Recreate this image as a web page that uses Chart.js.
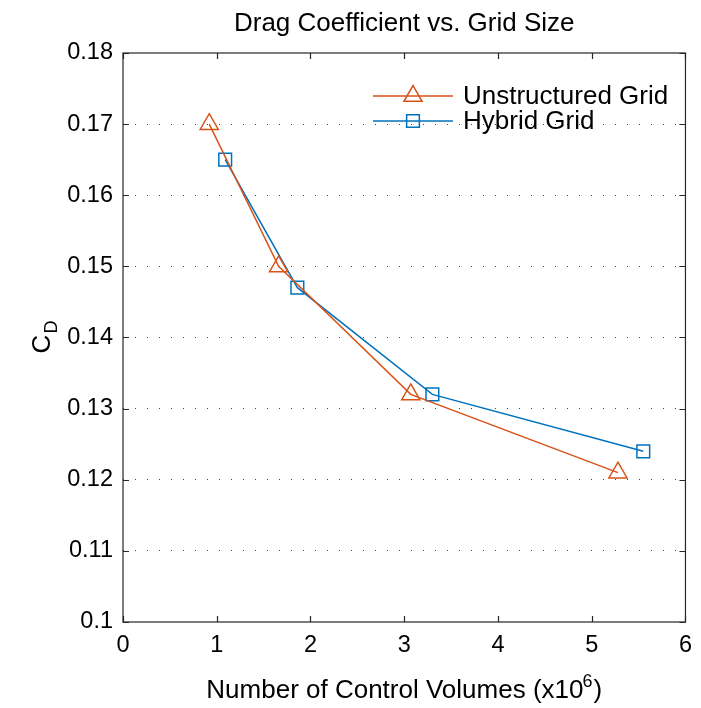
<!DOCTYPE html>
<html>
<head>
<meta charset="utf-8">
<script src="https://cdn.jsdelivr.net/npm/chart.js@4.4.0/dist/chart.umd.min.js"></script>
<style>
html,body{margin:0;padding:0;background:#fff;}
#wrap{width:701px;height:708px;}
</style>
</head>
<body>
<div id="wrap"><canvas id="c" width="701" height="708"></canvas></div>
<script>
const chartTitle = "Drag Coefficient vs. Grid Size";
const xAxisTitle = "Number of Control Volumes (x10";
const xAxisSup = "6";
const yAxisTitle = "C";
const yAxisSub = "D";
const seriesNames = ["Unstructured Grid", "Hybrid Grid"];
const unstructuredX = [0.92, 1.66, 3.07, 5.28];
const unstructuredY = [0.170, 0.150, 0.132, 0.121];
const hybridX = [1.09, 1.86, 3.30, 5.55];
const hybridY = [0.165, 0.147, 0.132, 0.124];
const xTicks = [0, 1, 2, 3, 4, 5, 6];
const yTicks = [0.1, 0.11, 0.12, 0.13, 0.14, 0.15, 0.16, 0.17, 0.18];
const yTickLabels = ["0.1", "0.11", "0.12", "0.13", "0.14", "0.15", "0.16", "0.17", "0.18"];

const ORANGE = "#D95319";
const BLUE = "#0072BD";
const FONT = "'Liberation Sans', Arial, sans-serif";
const TXT = 26;
const TICK = 23.5;
const SMALL = 18;

const toPts = (xs, ys) => xs.map((x, i) => ({x: x, y: ys[i]}));

const decor = {
  id: 'decor',
  afterDraw(chart) {
    const ctx = chart.ctx;
    const a = chart.chartArea;
    const xs = chart.scales.x, ys = chart.scales.y;
    ctx.save();
    // frame
    ctx.strokeStyle = '#262626';
    ctx.lineWidth = 1.2;
    ctx.strokeRect(a.left, a.top, a.right - a.left, a.bottom - a.top);
    // inner ticks
    const tl = 6;
    ctx.beginPath();
    xTicks.forEach(v => {
      const px = Math.round(xs.getPixelForValue(v)) + 0.5;
      ctx.moveTo(px, a.bottom); ctx.lineTo(px, a.bottom - tl);
      ctx.moveTo(px, a.top); ctx.lineTo(px, a.top + tl);
    });
    yTicks.forEach(v => {
      const py = Math.round(ys.getPixelForValue(v)) + 0.5;
      ctx.moveTo(a.left, py); ctx.lineTo(a.left + tl, py);
      ctx.moveTo(a.right, py); ctx.lineTo(a.right - tl, py);
    });
    ctx.stroke();
    // title
    ctx.fillStyle = '#000';
    ctx.font = TXT + "px " + FONT;
    ctx.textAlign = 'center';
    ctx.textBaseline = 'alphabetic';
    ctx.fillText(chartTitle, (a.left + a.right) / 2, 31);
    // x axis title with superscript
    ctx.font = TXT + "px " + FONT;
    const w1 = ctx.measureText(xAxisTitle).width;
    ctx.font = SMALL + "px " + FONT;
    const w2 = ctx.measureText(xAxisSup).width;
    ctx.font = TXT + "px " + FONT;
    const w3 = ctx.measureText(")").width;
    const total = w1 + w2 + w3;
    let sx = (a.left + a.right) / 2 - total / 2;
    const by = 698;
    ctx.textAlign = 'left';
    ctx.fillText(xAxisTitle, sx, by);
    ctx.font = SMALL + "px " + FONT;
    ctx.fillText(xAxisSup, sx + w1 - 1, by - 11);
    ctx.font = TXT + "px " + FONT;
    ctx.fillText(")", sx + w1 + w2, by);
    // y axis title with subscript, rotated
    ctx.save();
    ctx.translate(50, (a.top + a.bottom) / 2);
    ctx.rotate(-Math.PI / 2);
    ctx.font = TXT + "px " + FONT;
    const cw = ctx.measureText(yAxisTitle).width;
    ctx.font = SMALL + "px " + FONT;
    const dw = ctx.measureText(yAxisSub).width;
    const yx = -(cw + dw) / 2;
    ctx.font = TXT + "px " + FONT;
    ctx.fillText(yAxisTitle, yx, 0);
    ctx.font = SMALL + "px " + FONT;
    ctx.fillText(yAxisSub, yx + cw + 1, 7);
    ctx.restore();
    // legend
    const lx0 = 373, lx1 = 453, tx = 463;
    const rows = [
      {y: 96, color: ORANGE, style: 'triangle', r: 10.5, name: seriesNames[0]},
      {y: 121, color: BLUE, style: 'rect', r: 9, name: seriesNames[1]}
    ];
    rows.forEach(row => {
      ctx.strokeStyle = row.color;
      ctx.fillStyle = 'rgba(0,0,0,0)';
      ctx.lineWidth = 1.5;
      ctx.beginPath();
      ctx.moveTo(lx0, row.y); ctx.lineTo(lx1, row.y);
      ctx.stroke();
      Chart.helpers.drawPoint(ctx, {pointStyle: row.style, radius: row.r, borderWidth: 1.5}, (lx0 + lx1) / 2, row.y);
      ctx.fillStyle = '#000';
      ctx.font = TXT + "px " + FONT;
      ctx.textAlign = 'left';
      ctx.textBaseline = 'middle';
      ctx.fillText(row.name, tx, row.y + 1);
    });
    ctx.restore();
  }
};

new Chart(document.getElementById('c'), {
  type: 'scatter',
  data: {
    datasets: [
      {
        label: seriesNames[0],
        data: toPts(unstructuredX, unstructuredY),
        showLine: true,
        borderColor: ORANGE,
        backgroundColor: 'rgba(0,0,0,0)',
        borderWidth: 1.5,
        pointStyle: 'triangle',
        pointRadius: 10.5,
        pointBorderWidth: 1.5,
        pointBorderColor: ORANGE,
        pointBackgroundColor: 'rgba(0,0,0,0)'
      },
      {
        label: seriesNames[1],
        data: toPts(hybridX, hybridY),
        showLine: true,
        borderColor: BLUE,
        backgroundColor: 'rgba(0,0,0,0)',
        borderWidth: 1.5,
        pointStyle: 'rect',
        pointRadius: 9,
        pointBorderWidth: 1.5,
        pointBorderColor: BLUE,
        pointBackgroundColor: 'rgba(0,0,0,0)'
      }
    ]
  },
  options: {
    responsive: false,
    animation: false,
    devicePixelRatio: 1,
    layout: {padding: {left: 0, right: 13, top: 53, bottom: 0}},
    plugins: {legend: {display: false}, tooltip: {enabled: false}, title: {display: false}},
    scales: {
      x: {
        type: 'linear', min: 0, max: 6,
        afterFit: s => { s.height = 86; },
        afterBuildTicks: s => { s.ticks = xTicks.map(v => ({value: v})); },
        grid: {display: false, drawTicks: false},
        border: {display: false},
        ticks: {color: '#000', font: {family: FONT, size: TICK}, padding: 9, maxRotation: 0,
                callback: v => String(v)}
      },
      y: {
        type: 'linear', min: 0.1, max: 0.18,
        afterFit: s => { s.width = 123; },
        afterBuildTicks: s => { s.ticks = yTicks.map(v => ({value: v})); },
        grid: {
          drawTicks: false,
          color: c => (c.tick && (c.tick.value <= 0.1001 || c.tick.value >= 0.1799)) ? 'rgba(0,0,0,0)' : '#444'
        },
        border: {display: false, dash: [1, 11]},
        ticks: {color: '#000', font: {family: FONT, size: TICK}, padding: 10,
                callback: (v, i) => yTickLabels[i]}
      }
    }
  },
  plugins: [decor]
});
</script>
</body>
</html>
